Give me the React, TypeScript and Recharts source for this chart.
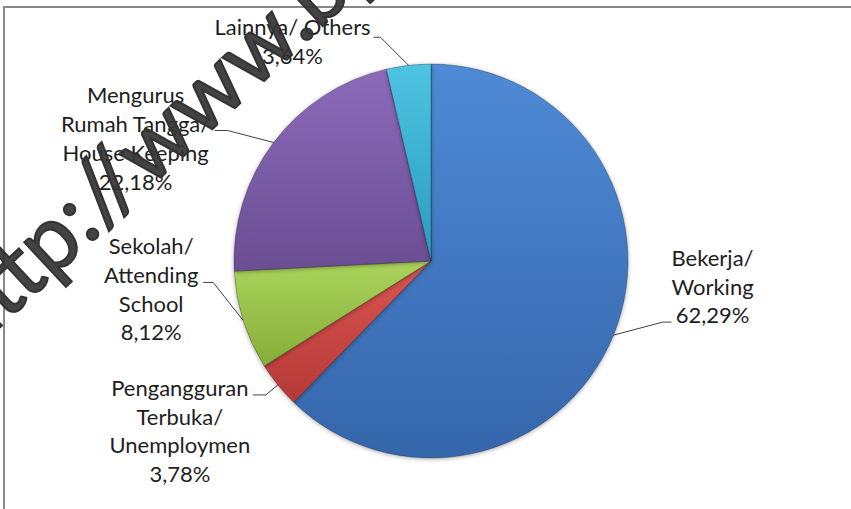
import { PieChart, Pie, Cell } from 'recharts'

// Penduduk 15+ menurut kegiatan utama
const categories = [
  'Bekerja/\nWorking',
  'Pengangguran\nTerbuka/\nUnemploymen',
  'Sekolah/\nAttending\nSchool',
  'Mengurus\nRumah Tangga/\nHouse Keeping',
  'Lainnya/ Others',
]
const shares = [62.29, 3.78, 8.12, 22.18, 3.64]

const data = categories.map((name, i) => ({ name, value: shares[i] }))

const gradients = [
  ['#4f8ad6', '#3566ab'],
  ['#dc5552', '#b43936'],
  ['#aad45c', '#86ad38'],
  ['#8c6bbb', '#6a4d92'],
  ['#4dc4e2', '#2b9bbd'],
]

// leader elbow / end and text placement, relative to the point on the rim
const labelLayout = [
  { elbow: [49, -13], end: [58, -13], text: [99, -77] },
  { elbow: [-12, 10], end: [-25, 10], text: [-98, 3] },
  { elbow: [-30, -38], end: [-40, -38], text: [-92, -74] },
  { elbow: [-46, -12], end: [-59, -12], text: [-138, -47] },
  { elbow: [-28, -28], end: [-35, -28], text: [-116, -38] },
]

const W = 851
const H = 509
const FONT = 'Lato, "Open Sans", sans-serif'
const FS = 22
const LINE = 28.7
const RAD = Math.PI / 180

const fmt = (v: number) => v.toFixed(2).replace('.', ',') + '%'

function renderLabel(props: any) {
  const { cx, cy, midAngle, outerRadius, index, value, name } = props
  const x0 = cx + outerRadius * Math.cos(-midAngle * RAD)
  const y0 = cy + outerRadius * Math.sin(-midAngle * RAD)
  const lay = labelLayout[index]
  const lines = [...String(name).split('\n'), fmt(value)]
  const tx = x0 + lay.text[0]
  const ty = y0 + lay.text[1]
  return (
    <g key={'lbl' + index}>
      <polyline
        points={`${x0},${y0} ${x0 + lay.elbow[0]},${y0 + lay.elbow[1]} ${x0 + lay.end[0]},${y0 + lay.end[1]}`}
        fill="none"
        stroke="#404040"
        strokeWidth={1}
      />
      <text textAnchor="middle" fontFamily={FONT} fontSize={FS} fill="#1e1e1e">
        {lines.map((l, i) => (
          <tspan key={i} x={tx} y={ty + i * LINE + FS * 0.36}>
            {l}
          </tspan>
        ))}
      </text>
    </g>
  )
}

export default function App() {
  const wm = {
    fontFamily: FONT,
    fontSize: 90,
    fill: '#333',
    stroke: '#333',
    strokeWidth: 2,
    fillOpacity: 0.92,
  }
  return (
    <div style={{ position: 'absolute', left: 0, top: 0, width: W, height: H, background: '#fff' }}>
      <style>{`.recharts-pie-sector path { filter: drop-shadow(0 1px 2px rgba(0,0,0,0.35)); }`}</style>
      <PieChart width={W} height={H} margin={{ top: 0, right: 0, bottom: 0, left: 0 }}>
        <defs>
          {gradients.map((g, i) => (
            <linearGradient key={i} id={'sl' + i} x1="0" y1="0" x2="0" y2="1">
              <stop offset="0%" stopColor={g[0]} />
              <stop offset="100%" stopColor={g[1]} />
            </linearGradient>
          ))}
        </defs>
        <Pie
          data={data}
          dataKey="value"
          nameKey="name"
          cx={431}
          cy={261}
          outerRadius={197}
          startAngle={90}
          endAngle={-270}
          stroke="rgba(0,0,0,0.25)"
          strokeWidth={1}
          label={renderLabel}
          labelLine={false}
          isAnimationActive={false}
        >
          {data.map((_, i) => (
            <Cell key={i} fill={`url(#sl${i})`} />
          ))}
        </Pie>
      </PieChart>
      <svg
        width={W}
        height={H}
        style={{ position: 'absolute', left: 0, top: 0, pointerEvents: 'none' }}
      >
        <line x1={4} y1={7} x2={W} y2={7} stroke="#888" strokeWidth={2} />
        <line x1={4} y1={6} x2={4} y2={H} stroke="#888" strokeWidth={2} />
        <g transform="translate(81,223) rotate(-43)">
          <text x={12} y={21} textAnchor="end" {...wm}>
            http:
          </text>
          <text x={12} y={21} {...wm}>
            //www.bps.go.id
          </text>
        </g>
      </svg>
    </div>
  )
}
